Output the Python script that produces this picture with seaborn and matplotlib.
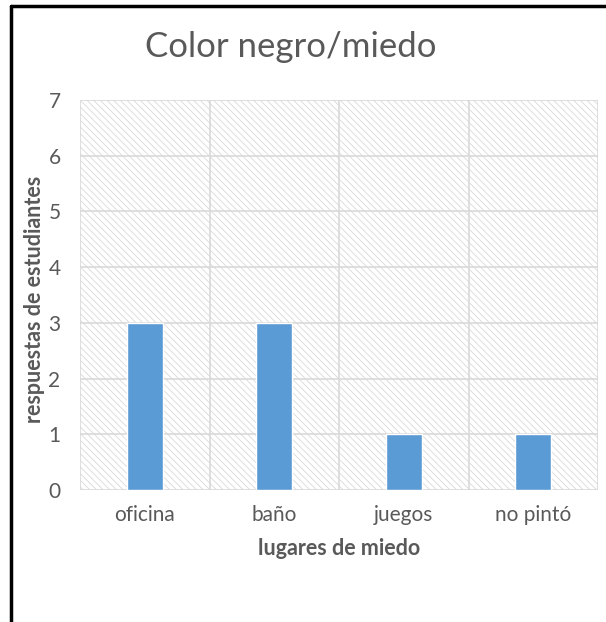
import numpy as np
import pandas as pd
import matplotlib
matplotlib.use("Agg")
import matplotlib.pyplot as plt
import seaborn as sns
from matplotlib.patches import Rectangle
from matplotlib.lines import Line2D

# ==============================
# DATA
# ==============================
lugares = ["oficina", "baño", "juegos", "no pintó"]
respuestas = [3, 3, 1, 1]
y_ticks = [0, 1, 2, 3, 4, 5, 6, 7]

titulo = "Color negro/miedo"
x_label = "lugares de miedo"
y_label = "respuestas de estudiantes"

# ==============================
# STYLE
# ==============================
sns.set_style("white")
plt.rcParams['font.family'] = ['Lato', 'DejaVu Sans']
plt.rcParams['hatch.linewidth'] = 0.6

text_gray = "#595959"
grid_gray = "#d9d9d9"
bar_blue = "#5b9bd5"

df = pd.DataFrame({"lugar": lugares, "respuestas": respuestas})

fig = plt.figure(figsize=(6.06, 6.22), dpi=100)
ax = fig.add_axes([80 / 606, 1 - 490 / 622, (598 - 80) / 606, (490 - 100) / 622])

# hatched plot area
ax.add_patch(Rectangle((0, 0), 1, 1, transform=ax.transAxes, facecolor="white",
                       edgecolor="#d9d9d9", hatch="\\" * 5, linewidth=0, zorder=0))

sns.barplot(data=df, x="lugar", y="respuestas", color=bar_blue, width=0.28,
            saturation=1, ax=ax, zorder=3)

ax.set_ylim(0, 7)
ax.set_xlim(-0.5, len(lugares) - 0.5)
ax.set_yticks(y_ticks)
ax.set_xticks(np.arange(-0.5, len(lugares)), minor=True)
ax.grid(True, which="major", axis="y", color=grid_gray, linewidth=1.2, zorder=1)
ax.grid(True, which="minor", axis="x", color=grid_gray, linewidth=1.2, zorder=1)
ax.grid(False, which="major", axis="x")
for s in ax.spines.values():
    s.set_visible(False)
ax.tick_params(axis="both", which="both", length=0)
ax.tick_params(axis="y", pad=14, labelsize=15, labelcolor=text_gray)
ax.tick_params(axis="x", pad=11, labelsize=15, labelcolor=text_gray)

ax.set_xlabel(x_label, fontsize=15.5, fontweight="bold", color=text_gray, labelpad=9)
ax.set_ylabel(y_label, fontsize=15.5, fontweight="bold", color=text_gray)
ax.yaxis.set_label_coords((45 - 80) / 518, 0.49)

fig.text(291 / 606, 1 - 47 / 622, titulo, fontsize=25, color=text_gray,
         ha="center", va="center")

# frame lines on the top and left of the picture
fig.add_artist(Line2D([11 / 606, 1], [1 - 6 / 622, 1 - 6 / 622], color="black",
                      linewidth=2.5, transform=fig.transFigure))
fig.add_artist(Line2D([11 / 606, 11 / 606], [0, 1 - 6 / 622], color="black",
                      linewidth=2.5, transform=fig.transFigure))

fig.savefig("out.png", dpi=100, facecolor="white")
